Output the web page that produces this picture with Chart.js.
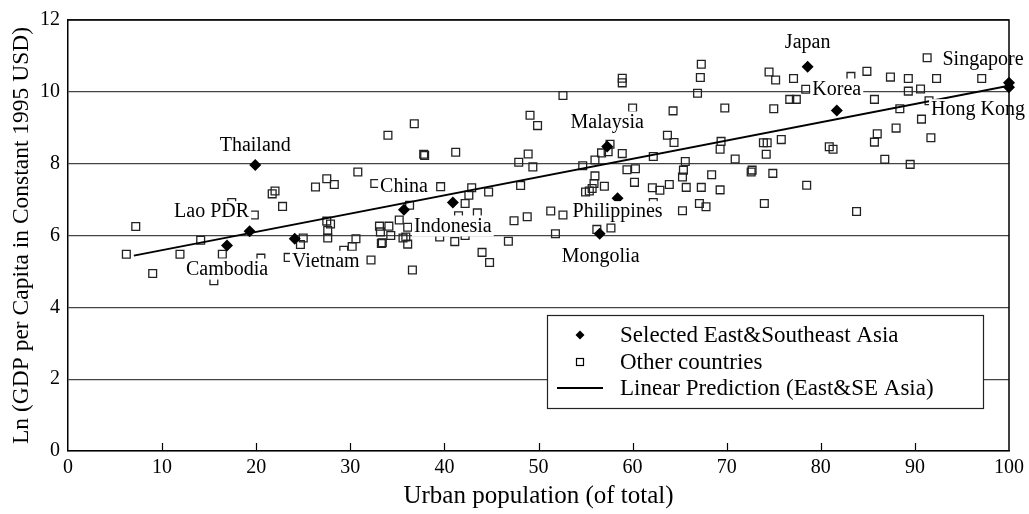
<!DOCTYPE html>
<html>
<head>
<meta charset="utf-8">
<script src="https://cdn.jsdelivr.net/npm/chart.js@4.4.0/dist/chart.umd.min.js"></script>
<style>
  html, body { margin: 0; padding: 0; background: #fff; }
  #wrap { width: 1029px; height: 514px; position: relative; }
</style>
</head>
<body>
<div id="wrap"><canvas id="urbanChart"></canvas></div>
<script>
'use strict';

/* Selected East & Southeast Asia */
const countries = ['Cambodia', 'Lao PDR', 'Vietnam', 'Thailand', 'China', 'Indonesia', 'Mongolia',
    'Malaysia', 'Philippines', 'Japan', 'Korea', 'Singapore', 'Hong Kong'];
const countryUrban = [16.9, 19.3, 24.1, 19.9, 35.7, 40.9, 56.5, 57.3, 58.4, 78.6, 81.7, 100, 100];
const countryGdp = [5.72, 6.12, 5.91, 7.96, 6.72, 6.92, 6.05, 8.48, 7.04, 10.70, 9.48, 10.25, 10.13];

/* Other countries */
const otherUrban = [
    6.2, 7.2, 9.0, 11.9, 14.1, 16.4, 15.5, 20.5, 17.4, 19.8,
    21.7, 22.0, 22.8, 26.3, 27.5, 28.3, 30.8, 34.0, 36.8, 37.8,
    37.9, 32.6, 36.3, 35.2, 27.5, 27.9, 27.6, 27.6, 25.0, 24.7,
    30.6, 30.2, 29.3, 33.1, 34.1, 33.2, 34.3, 33.3, 33.4, 35.6,
    35.9, 36.1, 36.6, 32.2, 23.4, 36.1, 39.6, 41.2, 42.9, 42.6,
    44.7, 42.2, 41.5, 43.5, 39.5, 41.1, 42.2, 44.0, 44.8, 46.8,
    47.4, 48.8, 51.3, 51.8, 48.1, 47.9, 48.9, 49.4, 49.1, 49.9,
    52.6, 54.7, 56.0, 52.6, 56.2, 55.0, 55.4, 55.7, 55.9, 56.0,
    58.9, 58.9, 67.3, 67.2, 66.9, 74.5, 75.2, 77.1, 76.7, 77.4,
    60.0, 64.3, 69.8, 75.0, 57.6, 56.7, 57.4, 58.9, 62.2, 63.7,
    64.4, 69.4, 69.3, 70.9, 73.9, 74.3, 75.8, 74.2, 65.6, 65.4,
    65.3, 59.4, 60.3, 68.4, 72.6, 72.7, 74.9, 57.0, 60.2, 62.1,
    62.9, 63.9, 65.7, 67.3, 69.3, 62.2, 67.1, 67.8, 65.3, 74.0,
    57.7, 83.2, 84.9, 87.4, 89.3, 92.3, 91.3, 97.1, 78.4, 85.7,
    89.3, 90.6, 88.4, 91.5, 90.7, 80.9, 81.3, 86.0, 85.7, 88.0,
    91.7, 86.8, 89.5, 78.5, 83.8
];
const otherGdp = [
    5.48, 6.25, 4.94, 5.48, 5.87, 5.48, 4.74, 5.37, 6.92, 6.57,
    7.16, 7.24, 6.81, 7.35, 7.58, 7.42, 7.77, 8.79, 9.11, 8.26,
    8.23, 7.45, 6.84, 6.43, 6.40, 6.32, 6.14, 5.93, 5.93, 5.75,
    5.91, 5.69, 5.59, 6.26, 6.26, 6.10, 6.00, 5.78, 5.80, 5.93,
    5.96, 5.76, 5.04, 5.32, 5.39, 6.23, 7.36, 8.32, 7.33, 7.12,
    7.21, 6.89, 6.55, 6.63, 5.96, 5.83, 6.00, 5.53, 5.25, 5.84,
    6.41, 6.52, 6.68, 6.05, 7.39, 8.04, 8.27, 7.91, 9.35, 9.06,
    9.90, 7.94, 8.10, 6.57, 6.17, 7.21, 7.24, 7.31, 7.45, 7.66,
    10.38, 10.25, 10.77, 10.40, 9.96, 10.55, 10.33, 10.37, 9.79, 9.79,
    9.55, 9.47, 9.55, 9.53, 8.54, 8.30, 8.33, 8.28, 8.20, 8.79,
    8.59, 8.62, 8.40, 8.13, 8.58, 8.58, 8.67, 8.26, 8.06, 7.82,
    7.63, 7.83, 7.86, 7.69, 7.77, 7.82, 7.73, 7.37, 7.48, 7.33,
    7.26, 7.42, 7.34, 7.34, 7.27, 6.92, 6.89, 6.80, 6.69, 6.89,
    6.21, 10.43, 10.57, 10.41, 10.37, 10.37, 10.95, 10.37, 10.07, 9.79,
    10.02, 10.08, 9.53, 9.75, 9.24, 8.47, 8.40, 8.83, 8.60, 8.99,
    8.72, 8.12, 7.98, 7.40, 6.67
];

/* Linear prediction (East & SE Asia) */
const fitUrban = [7, 100];
const fitGdp = [5.44, 10.17];

// label offsets from the diamond, in pixels
const labelOffsets = {
    'Thailand': [0, -19], 'Lao PDR': [-38, -19], 'Cambodia': [0, 24], 'Vietnam': [31, 23],
    'China': [0, -23], 'Indonesia': [0, 24], 'Mongolia': [1, 23], 'Malaysia': [0, -24],
    'Philippines': [0, 14], 'Japan': [0, -24], 'Korea': [0, -21], 'Singapore': [-26, -23],
    'Hong Kong': [-31, 23]
};

const serif = '"Liberation Serif", "Times New Roman", serif';

const toPoints = (xs, ys) => xs.map((x, i) => ({ x: x, y: ys[i] }));

const decorations = {
    id: 'decorations',
    afterDatasetsDraw(chart) {
        const c = chart.ctx;
        const meta = chart.getDatasetMeta(0);
        c.save();
        c.font = '20px ' + serif;
        c.textAlign = 'center';
        c.textBaseline = 'middle';
        countries.forEach((name, i) => {
            const pt = meta.data[i];
            const off = labelOffsets[name] || [0, -20];
            const tx = pt.x + off[0];
            const ty = pt.y + off[1];
            const w = c.measureText(name).width;
            c.fillStyle = '#fff';
            c.fillRect(tx - w / 2 - 2, ty - 11, w + 4, 21);
            c.fillStyle = '#000';
            c.fillText(name, tx, ty);
        });
        c.restore();
    },
    afterDraw(chart) {
        const c = chart.ctx;
        const a = chart.chartArea;
        const xs = chart.scales.x;
        c.save();
        c.strokeStyle = '#000';
        c.lineWidth = 1.5;
        // frame top & right
        c.beginPath();
        c.moveTo(a.left, a.top);
        c.lineTo(a.right, a.top);
        c.lineTo(a.right, a.bottom);
        c.stroke();
        // inward tick marks on x axis
        c.lineWidth = 1.2;
        for (let v = 10; v < 100; v += 10) {
            const px = Math.round(xs.getPixelForValue(v)) + 0.5;
            c.beginPath();
            c.moveTo(px, a.bottom);
            c.lineTo(px, a.bottom - 8);
            c.stroke();
        }

        // legend box
        const bx = 547, by = 315, bw = 436, bh = 93;
        c.fillStyle = '#fff';
        c.fillRect(bx, by, bw, bh);
        c.lineWidth = 1.2;
        c.strokeStyle = '#222';
        c.strokeRect(bx + 0.5, by + 0.5, bw, bh);

        const ds = chart.data.datasets;
        const rows = [335, 362, 388];
        c.font = '23px ' + serif;
        c.textAlign = 'left';
        c.textBaseline = 'middle';
        ds.forEach((d, i) => {
            const y = rows[i];
            c.fillStyle = '#000';
            c.strokeStyle = '#000';
            if (d.pointStyle === 'rectRot') {
                c.beginPath();
                c.moveTo(580, y - 4.5);
                c.lineTo(584.5, y);
                c.lineTo(580, y + 4.5);
                c.lineTo(575.5, y);
                c.closePath();
                c.fill();
            } else if (d.pointStyle === 'rect') {
                c.lineWidth = 1.2;
                c.strokeRect(576.5, y - 3.5, 7, 7);
            } else {
                c.lineWidth = 1.8;
                c.beginPath();
                c.moveTo(557, y);
                c.lineTo(603, y);
                c.stroke();
            }
            c.fillText(d.label, 620, y + 1);
        });
        c.restore();
    }
};

new Chart(document.getElementById('urbanChart'), {
    type: 'scatter',
    data: {
        datasets: [{
            label: 'Selected East&Southeast Asia',
            data: toPoints(countryUrban, countryGdp),
            pointStyle: 'rectRot',
            pointRadius: 6,
            backgroundColor: '#000',
            borderColor: '#000',
            borderWidth: 0,
            clip: false,
            order: 0
        }, {
            label: 'Other countries',
            data: toPoints(otherUrban, otherGdp),
            pointStyle: 'rect',
            pointRadius: 5.5,
            backgroundColor: 'rgba(255,255,255,0)',
            borderColor: '#222',
            borderWidth: 1.3,
            order: 2
        }, {
            label: 'Linear Prediction (East&SE Asia)',
            type: 'line',
            data: toPoints(fitUrban, fitGdp),
            borderColor: '#000',
            borderWidth: 2,
            pointRadius: 0,
            fill: false,
            order: 1
        }]
    },
    options: {
        responsive: true,
        maintainAspectRatio: false,
        animation: false,
        layout: { padding: { top: 13, right: 19, left: 0, bottom: 0 } },
        plugins: {
            legend: { display: false },
            tooltip: { enabled: false }
        },
        scales: {
            x: {
                type: 'linear',
                min: 0,
                max: 100,
                afterFit: (scale) => { scale.height = 63; },
                ticks: { stepSize: 10, color: '#000', padding: 5, font: { family: serif, size: 20 } },
                grid: { display: false, drawTicks: false },
                border: { color: '#000', width: 1.5 },
                title: {
                    display: true,
                    text: 'Urban population (of total)',
                    color: '#000',
                    font: { family: serif, size: 25 },
                    padding: { top: 0, bottom: 3 }
                }
            },
            y: {
                min: 0,
                max: 12,
                afterFit: (scale) => { scale.width = 68; },
                ticks: { stepSize: 2, color: '#000', padding: 8, font: { family: serif, size: 20 } },
                grid: { color: '#444', lineWidth: 1.2, drawTicks: false },
                border: { color: '#000', width: 1.5 },
                title: {
                    display: true,
                    text: 'Ln (GDP per Capita in Constant 1995 USD)',
                    color: '#000',
                    font: { family: serif, size: 23.5 },
                    padding: { top: 8, bottom: 0 }
                }
            }
        }
    },
    plugins: [decorations]
});
</script>
</body>
</html>
